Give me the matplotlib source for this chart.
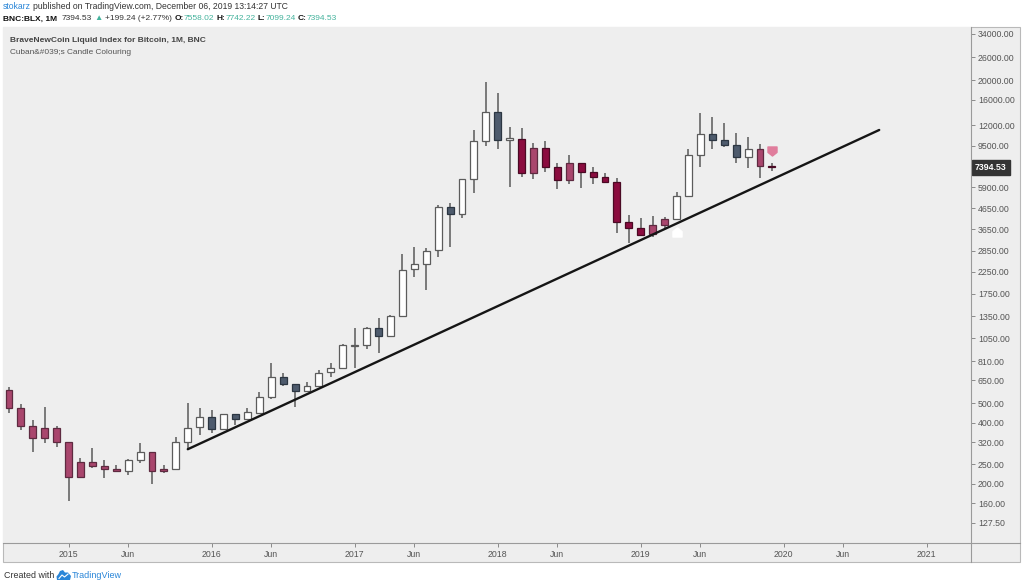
import matplotlib
matplotlib.use('Agg')
import matplotlib.pyplot as plt
import numpy as np
import pandas as pd
from matplotlib.patches import Rectangle, Polygon
from matplotlib.lines import Line2D
from matplotlib.path import Path
from matplotlib.ticker import FixedLocator, FixedFormatter, NullLocator
from matplotlib.transforms import ScaledTranslation, blended_transform_factory

# ---------------- data ----------------
start_month = '2014-08'
opens = [582, 475, 388, 338, 376, 320, 216, 255, 244, 236,
         230, 263, 286, 230, 235, 320, 380, 430, 372, 441,
         417, 447, 536, 673, 624, 578, 609, 711, 746, 966,
         970, 1178, 1080, 1360, 2310, 2455, 2870, 4720, 4345, 6460,
         10000, 13900, 10160, 10250, 6940, 9200, 7460, 6410, 7760, 7050,
         6610, 6290, 3970, 3720, 3445, 3835, 4120, 5340, 8530, 10800,
         10100, 9600, 8300, 9140, 7558.02]
highs = [604, 496, 413, 478, 386, 322, 267, 301, 263, 247,
         265, 319, 287, 247, 340, 503, 475, 463, 445, 442,
         472, 571, 790, 710, 626, 636, 731, 790, 980, 1178,
         1200, 1320, 1370, 2750, 2990, 2940, 4800, 4950, 6480, 11340,
         19700, 17260, 11700, 11650, 9750, 10000, 7810, 8530, 7810, 7410,
         6920, 6540, 4300, 4140, 4250, 4190, 5610, 9100, 13830, 13200,
         12330, 10920, 10440, 9640, 7742.22]
lows = [448, 369, 288, 317, 305, 163, 214, 240, 214, 228,
        221, 252, 198, 225, 235, 296, 348, 355, 368, 391,
        415, 445, 525, 609, 481, 574, 607, 673, 744, 746,
        927, 885, 1075, 1350, 2125, 1825, 2670, 2990, 4140, 5500,
        9440, 9160, 5940, 6600, 6460, 7000, 5780, 6100, 5870, 6100,
        6200, 3490, 3130, 3380, 3360, 3650, 4060, 5300, 7460, 9100,
        9380, 7760, 7330, 6530, 7099.24]
closes = [475, 388, 338, 376, 320, 216, 255, 244, 236, 231,
          263, 286, 230, 237, 323, 378, 430, 372, 441, 417,
          451, 536, 673, 624, 578, 609, 710, 746, 970, 970,
          1186, 1080, 1360, 2292, 2455, 2860, 4720, 4345, 6460, 9970,
          13900, 10160, 10300, 6940, 9200, 7460, 6410, 7760, 7050, 6610,
          6290, 3980, 3720, 3420, 3820, 4120, 5340, 8530, 10800, 10150,
          9590, 8300, 9140, 7550, 7394.53]
# candle colouring class: P pink, C crimson, W white (up), S slate (down)
candle_class = list("PPPPPPPPPP" "WWPPWWWSWS" "WWWSSWWWWW" "WSWWWWWSWW"
                    "WSWCPCCPCC" "CCCCPPWWWS" "SSWPC")

price_ticks = [127.5, 160, 200, 250, 320, 400, 500, 650, 810, 1050, 1350,
               1750, 2250, 2850, 3650, 4650, 5900, 9500, 12000, 16000,
               20000, 26000, 34000]
time_tick_dates = ['2015-01', '2015-06', '2016-01', '2016-06', '2017-01',
                   '2017-06', '2018-01', '2018-06', '2019-01', '2019-06',
                   '2020-01', '2020-06', '2021-01']
time_tick_labels = ['2015', 'Jun', '2016', 'Jun', '2017', 'Jun', '2018',
                    'Jun', '2019', 'Jun', '2020', 'Jun', '2021']

trend_dates = ['2015-11', '2020-09']
trend_values = [296, 11350]

signal_up_dates = ['2019-04']      # white marker below the candle
signal_down_dates = ['2019-12']    # pink marker above the candle

last_price = 7394.53

# ---------------- helpers ----------------
def month_index(periods):
    p = pd.PeriodIndex(periods, freq='M')
    return np.asarray((p.year - 2015) * 12 + p.month - 1, dtype=float)

dates = pd.period_range(start_month, periods=len(opens), freq='M')
xs = month_index(dates)

W, H = 1024, 586
FONT = ['Liberation Sans Narrow', 'Liberation Sans', 'DejaVu Sans']
plt.rcParams['font.family'] = FONT

fig = plt.figure(figsize=(W / 100, H / 100), dpi=100)
fig.patch.set_facecolor('white')

def fx(px):
    return px / W

def fy(py):
    return 1 - py / H

BG = '#eeeeee'
BORDER = '#b9b9b9'
# panel background (chart + axes)
fig.add_artist(Rectangle((fx(3), fy(562)), fx(1020) - fx(3), fy(27) - fy(562),
                         transform=fig.transFigure, facecolor=BG,
                         edgecolor=BORDER, lw=0.8, zorder=0))
fig.add_artist(Line2D([fx(971), fx(971)], [fy(27), fy(562)], color='#9a9a9a',
                      lw=0.8, transform=fig.transFigure, zorder=5))
fig.add_artist(Line2D([fx(3), fx(1020)], [fy(543), fy(543)], color='#9a9a9a',
                      lw=0.8, transform=fig.transFigure, zorder=5))

ax = fig.add_axes([fx(3), fy(543), fx(971) - fx(3), fy(27) - fy(543)])
ax.set_facecolor(BG)
ax.set_yscale('log')
ax.set_ylim(101.4, 36800)
ax.set_xlim(-5.5, 75.7)
for s in ax.spines.values():
    s.set_visible(False)

# ---------------- candles ----------------
fills = {'P': '#a9466d', 'C': '#8b0c3f', 'W': '#ffffff', 'S': '#4e5b6d'}
edges = {'P': '#5e2a40', 'C': '#4a0a24', 'W': '#5c5c5c', 'S': '#2c3642'}
o = np.array(opens, float)
c = np.array(closes, float)
hi = np.array(highs, float)
lo = np.array(lows, float)
bot = np.minimum(o, c)
top = np.maximum(o, c)
top = np.maximum(top, bot * 1.004)
ax.vlines(xs, lo, hi, color='#5a5a5a', lw=1.1, zorder=2)
ax.bar(xs, top - bot, bottom=bot, width=0.58,
       color=[fills[k] for k in candle_class],
       edgecolor=[edges[k] for k in candle_class], linewidth=0.9, zorder=3)

# trend line
ax.plot(month_index(trend_dates), trend_values, color='#151515', lw=1.7,
        zorder=4, solid_capstyle='round')

# signal markers
house_up = Path([(-1, -1), (1, -1), (1, 0.2), (0, 1), (-1, 0.2), (-1, -1)],
                [Path.MOVETO] + [Path.LINETO] * 4 + [Path.CLOSEPOLY])
house_dn = Path([(-1, 1), (1, 1), (1, -0.2), (0, -1), (-1, -0.2), (-1, 1)],
                [Path.MOVETO] + [Path.LINETO] * 4 + [Path.CLOSEPOLY])
idx_up = [list(dates.astype(str)).index(d) for d in signal_up_dates]
idx_dn = [list(dates.astype(str)).index(d) for d in signal_down_dates]
off_dn = ax.transData + ScaledTranslation(0, -0.12, fig.dpi_scale_trans)
off_up = ax.transData + ScaledTranslation(0, 0.125, fig.dpi_scale_trans)
ax.plot(xs[idx_up], lo[idx_up], ls='none', marker=house_up, ms=6.5,
        mfc='white', mec='white', transform=off_dn, zorder=5)
ax.plot(xs[idx_dn], hi[idx_dn], ls='none', marker=house_dn, ms=6.5,
        mfc='#e07d9c', mec='#e07d9c', transform=off_up, zorder=5)

# ---------------- axes ticks ----------------
ax.yaxis.set_major_locator(FixedLocator(price_ticks))
ax.yaxis.set_major_formatter(FixedFormatter([f'{v:.2f}' for v in price_ticks]))
ax.yaxis.set_minor_locator(NullLocator())
ax.yaxis.tick_right()
ax.tick_params(axis='y', which='major', direction='out', length=3, width=0.7,
               color='#8a8a8a', pad=2, labelsize=6.3, labelcolor='#555555')
ax.tick_params(axis='y', which='minor', length=0)

ax.xaxis.set_major_locator(FixedLocator(month_index(time_tick_dates)))
ax.xaxis.set_major_formatter(FixedFormatter(time_tick_labels))
ax.tick_params(axis='x', direction='out', length=3, width=0.7, color='#8a8a8a',
               pad=2, labelsize=6.3, labelcolor='#555555')

# last price label
ytr = blended_transform_factory(ax.transAxes, ax.transData)
ax.text(1.0 + fx(4) / (fx(971) - fx(3)), last_price, f'{last_price:.2f}',
        transform=ytr, ha='left', va='center', fontsize=6.3, color='white',
        fontweight='bold', clip_on=False, zorder=10,
        bbox=dict(boxstyle='square,pad=0.35', facecolor='#343434',
                  edgecolor='#343434'))

# ---------------- text blocks ----------------
renderer = fig.canvas.get_renderer()

def width_px(s, size, weight='normal'):
    t = fig.text(0, 0, s, fontsize=size, fontweight=weight)
    w = t.get_window_extent(renderer=renderer).width
    t.remove()
    return w

def seq_text(x_px, y_px, parts, size, target_width=None):
    # parts: (text, color, weight)
    def total(sz):
        sw = width_px('x x', sz) - width_px('xx', sz)
        tot = 0
        for s, col, wt in parts:
            lead = len(s) - len(s.lstrip(' '))
            tot += lead * sw + (width_px(s.strip(' '), sz, wt) if s.strip() else 0)
        return tot
    if target_width:
        size = size * target_width / total(size)
    sw = width_px('x x', size) - width_px('xx', size)
    x = x_px
    for s, col, wt in parts:
        lead = len(s) - len(s.lstrip(' '))
        x += lead * sw
        core = s.strip(' ')
        if not core:
            continue
        t = fig.text(fx(x), fy(y_px), core, color=col, fontsize=size,
                     fontweight=wt, ha='left', va='center')
        x += t.get_window_extent(renderer=renderer).width

DARK = '#333333'
TEAL = '#45b39d'
BLUE = '#2a86d8'
seq_text(3, 6.5, [('stokarz', BLUE, 'normal'),
                  (' published on TradingView.com, December 06, 2019 13:14:27 UTC', DARK, 'normal')],
         7.5, target_width=284)
seq_text(3, 19, [('BNC:BLX, 1M', '#111111', 'bold'),
                 ('  7394.53', DARK, 'normal'),
                 (' \u25B2', TEAL, 'normal'),
                 (' +199.24 (+2.77%)', DARK, 'normal'),
                 (' O:', '#111111', 'bold'), ('7558.02', TEAL, 'normal'),
                 (' H:', '#111111', 'bold'), ('7742.22', TEAL, 'normal'),
                 (' L:', '#111111', 'bold'), ('7099.24', TEAL, 'normal'),
                 (' C:', '#111111', 'bold'), ('7394.53', TEAL, 'normal')],
         7.5, target_width=335)
seq_text(10, 40, [('BraveNewCoin Liquid Index for Bitcoin, 1M, BNC', '#444444', 'bold')],
         7.0, target_width=193)
seq_text(10, 52, [('Cuban&#039;s Candle Colouring', '#555555', 'normal')],
         7.0, target_width=121)
seq_text(4, 575, [('Created with', '#333333', 'normal')], 7.0, target_width=50)
seq_text(72, 575, [('TradingView', BLUE, 'normal')], 7.0, target_width=49)

# small TradingView cloud logo
cloud = Polygon([(fx(57), fy(580)), (fx(70), fy(580)), (fx(71), fy(576)),
                 (fx(68), fy(572.5)), (fx(65), fy(572.5)), (fx(63), fy(570)),
                 (fx(60), fy(571)), (fx(58.5), fy(574)), (fx(56.5), fy(576.5))],
                closed=True, transform=fig.transFigure, facecolor='#2a86d8',
                edgecolor='none', zorder=6)
fig.add_artist(cloud)
fig.add_artist(Line2D([fx(59), fx(62), fx(64.5), fx(68)],
                      [fy(578.5), fy(575), fy(577), fy(574)], color='white',
                      lw=0.8, transform=fig.transFigure, zorder=7))

fig.savefig('out.png', dpi=100, facecolor='white')
